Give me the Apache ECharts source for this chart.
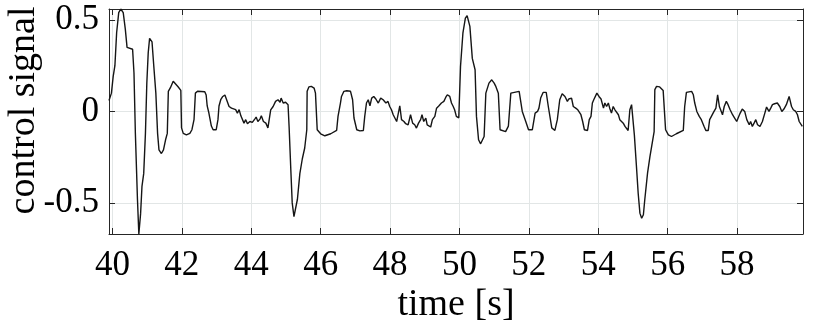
<!DOCTYPE html>
<html>
<head>
<meta charset="utf-8">
<title>control signal</title>
<script src="https://cdn.jsdelivr.net/npm/echarts@6/dist/echarts.min.js"></script>
<style>
  html, body { margin: 0; padding: 0; background: #fff; }
  #chart { width: 814px; height: 326px; }
</style>
</head>
<body>
<div id="chart"></div>
<script>
// sample times [s] and control signal values
var times = [
  39.90, 39.97, 40.02, 40.07, 40.12, 40.18, 40.24, 40.31, 40.37, 40.42,
  40.58, 40.62, 40.66, 40.72, 40.76, 40.81, 40.85, 40.90, 40.95, 40.99,
  41.03, 41.07, 41.11, 41.14, 41.19, 41.25, 41.30, 41.34, 41.41, 41.47,
  41.53, 41.58, 41.61, 41.67, 41.75, 41.80, 41.89, 41.97, 41.99, 42.04,
  42.13, 42.23, 42.29, 42.35, 42.39, 42.45, 42.66, 42.70, 42.73, 42.78,
  42.85, 42.90, 42.99, 43.04, 43.07, 43.12, 43.17, 43.24, 43.29, 43.36,
  43.43, 43.48, 43.55, 43.60, 43.65, 43.70, 43.74, 43.79, 43.84, 43.89,
  43.96, 44.03, 44.10, 44.14, 44.19, 44.25, 44.29, 44.35, 44.42, 44.48,
  44.53, 44.56, 44.63, 44.70, 44.77, 44.83, 44.86, 44.92, 44.99, 45.06,
  45.09, 45.14, 45.18, 45.23, 45.28, 45.33, 45.40, 45.47, 45.54, 45.60,
  45.61, 45.66, 45.73, 45.81, 45.85, 45.90, 46.00, 46.12, 46.29, 46.46,
  46.50, 46.57, 46.60, 46.67, 46.75, 46.86, 46.92, 46.96, 46.99, 47.04,
  47.13, 47.23, 47.27, 47.32, 47.37, 47.42, 47.47, 47.53, 47.59, 47.66,
  47.73, 47.80, 47.88, 47.94, 47.99, 48.04, 48.09, 48.14, 48.19, 48.23,
  48.28, 48.33, 48.40, 48.45, 48.52, 48.59, 48.65, 48.71, 48.76, 48.82,
  48.88, 48.92, 48.97, 49.03, 49.07, 49.12, 49.17, 49.22, 49.29, 49.34,
  49.41, 49.48, 49.55, 49.61, 49.65, 49.72, 49.77, 49.82, 49.86, 49.91,
  49.98, 50.03, 50.10, 50.17, 50.22, 50.30, 50.37, 50.45, 50.49, 50.55,
  50.61, 50.71, 50.76, 50.85, 50.93, 51.00, 51.04, 51.12, 51.17, 51.33,
  51.41, 51.48, 51.53, 51.72, 51.81, 51.91, 51.99, 52.10, 52.18, 52.25,
  52.29, 52.34, 52.41, 52.50, 52.56, 52.66, 52.75, 52.82, 52.89, 52.96,
  53.04, 53.11, 53.15, 53.23, 53.28, 53.35, 53.41, 53.50, 53.55, 53.60,
  53.69, 53.74, 53.79, 53.83, 53.87, 53.92, 53.96, 54.02, 54.08, 54.15,
  54.19, 54.24, 54.29, 54.33, 54.38, 54.43, 54.48, 54.53, 54.58, 54.62,
  54.67, 54.72, 54.77, 54.82, 54.86, 54.91, 54.96, 55.01, 55.04, 55.10,
  55.15, 55.20, 55.25, 55.30, 55.34, 55.42, 55.49, 55.54, 55.61, 55.63,
  55.68, 55.77, 55.87, 55.92, 55.94, 56.02, 56.11, 56.25, 56.45, 56.49,
  56.54, 56.59, 56.69, 56.74, 56.78, 56.84, 56.91, 56.97, 57.05, 57.10,
  57.17, 57.21, 57.26, 57.32, 57.39, 57.44, 57.49, 57.53, 57.58, 57.63,
  57.69, 57.74, 57.80, 57.87, 57.93, 57.99, 58.03, 58.09, 58.15, 58.22,
  58.28, 58.35, 58.39, 58.44, 58.49, 58.54, 58.59, 58.66, 58.73, 58.80,
  58.85, 58.92, 58.97, 59.02, 59.08, 59.16, 59.23, 59.29, 59.35, 59.42,
  59.50, 59.57, 59.62, 59.69, 59.74, 59.79, 59.83, 59.88
];
var signal = [
  0.06, 0.10, 0.19, 0.25, 0.43, 0.54, 0.56, 0.54, 0.45, 0.35,
  0.34, 0.21, -0.12, -0.48, -0.67, -0.56, -0.41, -0.34, -0.12, 0.155,
  0.32, 0.40, 0.41, 0.38, 0.25, 0.10, -0.12, -0.21, -0.23, -0.21,
  -0.155, -0.12, 0.11, 0.13, 0.165, 0.165, 0.135, 0.115, -0.09, -0.12,
  -0.128, -0.12, -0.10, -0.045, 0.10, 0.11, 0.108, 0.09, 0.03, -0.01,
  -0.08, -0.10, -0.10, -0.045, 0.03, 0.064, 0.08, 0.09, 0.08, 0.027,
  0.018, 0.013, 0.01, -0.009, 0.01, -0.024, -0.018, -0.064, -0.045, -0.067,
  -0.055, -0.06, -0.042, -0.031, -0.055, -0.042, -0.024, -0.055, -0.064, -0.09,
  -0.082, 0.009, 0.027, 0.055, 0.064, 0.05, 0.073, 0.046, 0.05, 0.037,
  -0.082, -0.32, -0.50, -0.575, -0.565, -0.48, -0.34, -0.26, -0.20, -0.10,
  0.11, 0.134, 0.137, 0.128, 0.10, -0.10, -0.122, -0.133, -0.122, -0.104,
  -0.027, 0.046, 0.082, 0.11, 0.113, 0.11, 0.064, -0.036, -0.045, -0.10,
  -0.106, -0.104, -0.027, 0.046, 0.064, 0.031, 0.073, 0.082, 0.068, 0.046,
  0.073, 0.064, 0.046, 0.055, 0.027, 0.009, -0.018, -0.027, -0.055, -0.018,
  0.031, -0.045, -0.055, -0.067, -0.073, -0.018, -0.064, -0.073, -0.091, -0.064,
  -0.045, -0.018, -0.055, -0.036, -0.073, -0.082, -0.085, -0.045, -0.027, 0.018,
  0.031, 0.046, 0.055, 0.079, 0.091, 0.082, 0.046, 0.027, 0.009, -0.027,
  -0.035, 0.246, 0.43, 0.51, 0.524, 0.465, 0.29, 0.228, -0.027, -0.155,
  -0.177, -0.137, 0.10, 0.155, 0.173, 0.155, 0.14, 0.10, -0.10, -0.11,
  -0.08, 0.10, 0.11, 0.11, 0.0, -0.055, -0.10, -0.10, -0.009, 0.0,
  0.018, 0.073, 0.104, 0.104, 0.027, -0.09, -0.104, -0.045, 0.064, 0.097,
  0.082, 0.055, 0.068, 0.073, 0.027, 0.018, 0.009, -0.018, -0.055, -0.10,
  -0.104, -0.045, -0.027, 0.046, 0.064, 0.055, 0.10, 0.082, 0.068, 0.018,
  0.046, 0.027, 0.046, 0.018, -0.009, 0.027, 0.009, 0.0, -0.018, -0.045,
  -0.036, -0.064, -0.082, -0.091, -0.104, 0.009, 0.037, 0.046, -0.128, -0.30,
  -0.447, -0.556, -0.584, -0.565, -0.483, -0.337, -0.246, -0.19, -0.11, 0.119,
  0.137, 0.134, 0.115, 0.11, -0.10, -0.128, -0.137, -0.122, -0.104, 0.027,
  0.104, 0.11, 0.11, 0.091, 0.046, 0.0, -0.027, -0.045, -0.082, -0.104,
  -0.104, -0.045, -0.027, -0.005, 0.018, 0.091, 0.027, 0.018, -0.018, 0.027,
  0.055, 0.037, 0.009, -0.018, -0.036, -0.055, -0.036, -0.009, 0.013, 0.0,
  -0.045, -0.073, -0.055, -0.082, -0.064, -0.045, -0.073, -0.082, -0.055, -0.009,
  0.024, 0.0, 0.018, 0.037, 0.042, 0.046, 0.027, 0.0, 0.013, 0.037,
  0.082, 0.027, 0.009, 0.0, -0.018, -0.055, -0.045, -0.082
];
var xTicks = [40, 42, 44, 46, 48, 50, 52, 54, 56, 58];
var yTicks = [-0.5, 0, 0.5];

var font = 'Liberation Serif';
var axisColor = '#262626';
var gridColor = '#e2e6e6';

var chart = echarts.init(document.getElementById('chart'));

var points = times.map(function(t, i) { return [t, signal[i]]; });

function boxAxis(isX, pos, withLabels, name) {
  return {
    type: 'value',
    position: pos,
    min: isX ? 39.9 : -0.67,
    max: isX ? 59.9 : 0.56,
    name: name || '',
    nameLocation: 'middle',
    nameGap: isX ? 52 : 66,
    nameMoveOverlap: false,
    nameTextStyle: {
      fontFamily: font,
      fontSize: 38,
      color: '#000',
      padding: isX ? 0 : [0, 0, 0, 22]
    },
    axisLine: { show: true, onZero: false, lineStyle: { color: axisColor, width: 1 } },
    axisTick: {
      show: true,
      inside: true,
      length: 6,
      customValues: isX ? xTicks : yTicks,
      lineStyle: { color: axisColor, width: 1 }
    },
    axisLabel: {
      show: withLabels,
      customValues: isX ? xTicks : yTicks,
      margin: isX ? 14 : 10,
      fontFamily: font,
      fontSize: 35,
      color: '#000'
    },
    splitLine: {
      show: withLabels,
      lineStyle: { color: gridColor, width: 1 }
    }
  };
}

chart.setOption({
  animation: false,
  grid: { left: 109, right: 11, top: 9, bottom: 92, outerBoundsMode: 'none' },
  xAxis: [
    boxAxis(true, 'bottom', true, 'time [s]'),
    boxAxis(true, 'top', false)
  ],
  yAxis: [
    boxAxis(false, 'left', true, 'control signal'),
    boxAxis(false, 'right', false)
  ],
  series: [{
    type: 'line',
    data: points,
    showSymbol: false,
    lineStyle: { color: '#151515', width: 1.4 }
  }]
});
</script>
</body>
</html>
